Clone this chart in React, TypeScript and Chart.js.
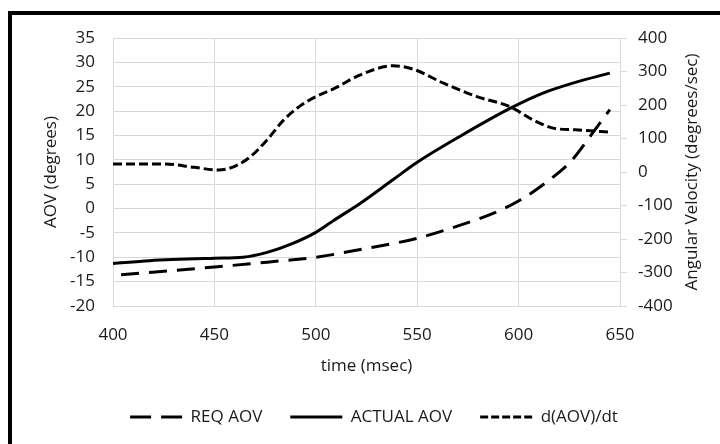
import React, { useEffect, useRef } from "react";
import { Chart, registerables } from "chart.js";

Chart.register(...registerables);

// ---- Data ----
const reqTime = [404, 450, 476, 500, 522, 550, 572, 588, 601, 614, 626, 637, 645];
const reqAov = [-13.6, -12.0, -11.0, -10.0, -8.4, -6.1, -3.3, -0.9, 1.8, 5.5, 9.8, 15.8, 20.3];

const actualTime = [400, 418, 450, 464, 476, 489, 500, 509, 522, 538, 550, 571, 596, 612, 628, 645];
const actualAov = [-11.3, -10.7, -10.2, -10.0, -9.0, -7.1, -4.9, -2.4, 1.1, 5.9, 9.5, 14.8, 20.6, 23.7, 25.9, 27.8];

const rateTime = [400, 425, 440, 452, 460, 468, 476, 484, 492, 500, 509, 522, 538, 548, 563, 579, 596, 607, 617, 628, 645];
const rateAov = [24, 24, 14, 6, 17, 47, 96, 154, 196, 225, 249, 290, 317, 307, 265, 226, 194, 156, 131, 126, 119];

const seriesNames = ["REQ AOV", "ACTUAL AOV", "d(AOV)/dt"];
const seriesDash = [[18, 10], [], [9, 4]];
const legendDash = [[21, 10], [], [8, 3]];
const xTitle = "time (msec)";
const leftTitle = "AOV (degrees)";
const rightTitle = "Angular Velocity (degrees/sec)";

const xRange = { min: 400, max: 650, step: 50 };
const leftRange = { min: -20, max: 35, step: 5 };
const rightRange = { min: -400, max: 400, step: 100 };

const TEXT = "#1a1a1a";
const GRID = "#d9d9d9";
const FONT = '"Open Sans", sans-serif';

const toPoints = (xs: number[], ys: number[]) => xs.map((x, i) => ({ x, y: ys[i] }));

const rightTitlePlugin = {
  id: "rightTitle",
  afterDraw(chart: any) {
    const s = chart.scales.y1;
    const ctx = chart.ctx;
    ctx.save();
    ctx.translate(s.right - 27.5, (chart.chartArea.top + chart.chartArea.bottom) / 2);
    ctx.rotate(-Math.PI / 2);
    ctx.font = `17px ${FONT}`;
    ctx.fillStyle = TEXT;
    ctx.textAlign = "center";
    ctx.textBaseline = "middle";
    ctx.fillText(rightTitle, 0, 0);
    ctx.restore();
  },
};

export default function App() {
  const ref = useRef<HTMLCanvasElement | null>(null);

  useEffect(() => {
    if (!ref.current) return;
    const font = { family: FONT, size: 17 };
    const mk = (i: number, xs: number[], ys: number[], axis: string) => ({
      label: seriesNames[i],
      data: toPoints(xs, ys),
      yAxisID: axis,
      borderColor: "#000",
      backgroundColor: "#000",
      borderWidth: 3,
      borderDash: seriesDash[i],
      pointRadius: 0,
      cubicInterpolationMode: "monotone",
      fill: false,
    });
    const chart = new Chart(ref.current, {
      type: "line",
      data: {
        datasets: [
          mk(0, reqTime, reqAov, "y"),
          mk(1, actualTime, actualAov, "y"),
          mk(2, rateTime, rateAov, "y1"),
        ],
      },
      options: {
        responsive: false,
        animation: false,
        devicePixelRatio: 1,
        layout: { padding: { left: 28, right: 0, top: 38, bottom: 8.5 } },
        plugins: {
          tooltip: { enabled: false },
          legend: {
            position: "bottom",
            labels: {
              usePointStyle: true,
              pointStyle: "line",
              pointStyleWidth: 52,
              padding: 28,
              color: TEXT,
              font,
              generateLabels: (chart: any) => {
                const items = Chart.defaults.plugins.legend.labels.generateLabels(chart);
                return items.map((it: any, i: number) => ({
                  ...it,
                  lineDash: legendDash[i],
                  lineWidth: 3,
                  strokeStyle: "#000",
                  fillStyle: "#000",
                  lineCap: "butt",
                  lineDashOffset: 0,
                }));
              },
            },
          },
        },
        scales: {
          x: {
            type: "linear",
            position: "bottom",
            min: xRange.min,
            max: xRange.max,
            ticks: { stepSize: xRange.step, color: TEXT, font, padding: 19 },
            grid: { color: GRID, drawTicks: false },
            border: { color: GRID },
            title: { display: true, text: xTitle, color: TEXT, font, padding: { top: 0, bottom: 4 } },
            afterFit: (s: any) => {
              s.height = 74.5;
            },
          },
          y: {
            type: "linear",
            position: "left",
            min: leftRange.min,
            max: leftRange.max,
            ticks: { stepSize: leftRange.step, color: TEXT, font, padding: 18 },
            grid: { color: GRID, drawTicks: false },
            border: { color: GRID },
            title: { display: true, text: leftTitle, color: TEXT, font, padding: { top: 13.3, bottom: 0 } },
            afterFit: (s: any) => {
              s.width = 85;
            },
          },
          y1: {
            type: "linear",
            position: "right",
            min: rightRange.min,
            max: rightRange.max,
            ticks: { stepSize: rightRange.step, color: TEXT, font, padding: 11 },
            grid: { color: GRID, drawOnChartArea: false, drawTicks: true, tickLength: 7 },
            border: { color: GRID },
            title: { display: false, text: rightTitle },
            afterFit: (s: any) => {
              s.width = 100;
            },
          },
        },
      },
      plugins: [rightTitlePlugin],
    } as any);
    return () => chart.destroy();
  }, []);

  return (
    <div style={{ position: "fixed", left: 0, top: 0, width: 720, height: 444, overflow: "hidden", background: "#fff" }}>
      <div
        style={{
          position: "absolute",
          left: 8,
          top: 11,
          width: 800,
          height: 500,
          border: "4px solid #000",
          boxSizing: "border-box",
        }}
      />
      <canvas ref={ref} width={720} height={444} style={{ position: "absolute", left: 0, top: 0, width: 720, height: 444 }} />
    </div>
  );
}
